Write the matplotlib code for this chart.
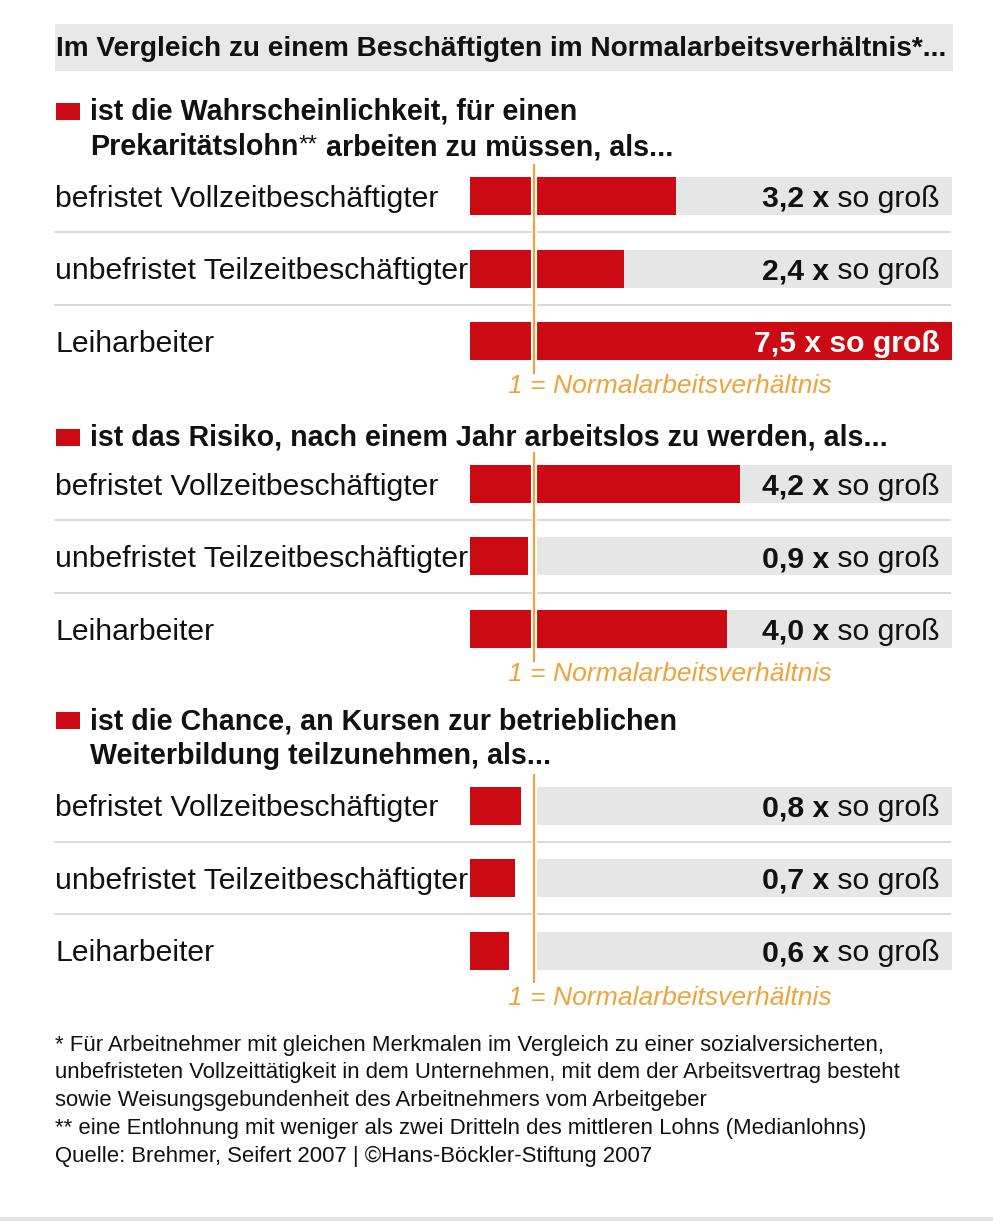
import matplotlib
matplotlib.use("Agg")
import matplotlib.pyplot as plt

# ---------------- data ----------------
title = "Im Vergleich zu einem Beschäftigten im Normalarbeitsverhältnis*..."
categories = ["befristet Vollzeitbeschäftigter",
              "unbefristet Teilzeitbeschäftigter",
              "Leiharbeiter"]
header_lohn = ["ist die Wahrscheinlichkeit, für einen",
               "Prekaritätslohn** arbeiten zu müssen, als..."]
header_arbeitslos = ["ist das Risiko, nach einem Jahr arbeitslos zu werden, als..."]
header_weiterbildung = ["ist die Chance, an Kursen zur betrieblichen",
                        "Weiterbildung teilzunehmen, als..."]
values_lohn = [3.2, 2.4, 7.5]
values_arbeitslos = [4.2, 0.9, 4.0]
values_weiterbildung = [0.8, 0.7, 0.6]
reference_value = 1.0
reference_label = "1 = Normalarbeitsverhältnis"
value_suffix = " so groß"
footnotes = ["* Für Arbeitnehmer mit gleichen Merkmalen im Vergleich zu einer sozialversicherten,",
             "unbefristeten Vollzeittätigkeit in dem Unternehmen, mit dem der Arbeitsvertrag besteht",
             "sowie Weisungsgebundenheit des Arbeitnehmers vom Arbeitgeber",
             "** eine Entlohnung mit weniger als zwei Dritteln des mittleren Lohns (Medianlohns)",
             "Quelle: Brehmer, Seifert 2007 | ©Hans-Böckler-Stiftung 2007"]

# ---------------- style / layout ----------------
RED = "#cc0a14"
GRAY = "#e6e6e6"
SEP = "#d9d9d9"
ORANGE = "#eda43a"
TXT = "#111111"
FONT = ["Liberation Sans", "DejaVu Sans"]
plt.rcParams["font.family"] = FONT

W, H = 993, 1221
fig = plt.figure(figsize=(W / 100, H / 100), dpi=100)
ov = fig.add_axes([0, 0, 1, 1])
ov.set_xlim(0, W)
ov.set_ylim(H, 0)
ov.axis("off")
ov.set_zorder(5)
renderer = fig.canvas.get_renderer()


def width_px(s, size, **kw):
    t = ov.text(0, 0, s, fontsize=size, **kw)
    w = t.get_window_extent(renderer).width
    t.remove()
    return w


def fit(s, target, **kw):
    return 10 * target / width_px(s, 10, **kw)


LEFT, BAR_L, BAR_R = 55, 470, 952
ROW = 72.5
BAR_H = 38 / ROW
XMAX = max(values_lohn + values_arbeitslos + values_weiterbildung)

fs_title = fit(title, 893, fontweight="bold")
fs_head = fit(header_lohn[0], 488, fontweight="bold")
fs_cat = fit(categories[0], 385)
fs_ref = fit(reference_label, 324, fontstyle="italic")
fs_foot = fit(footnotes[0], 829)

# title bar
ov.add_patch(plt.Rectangle((LEFT, 24), BAR_R + 1 - LEFT, 46.5, color="#e8e8e8", lw=0))
ov.text(LEFT + 1, 55.5, title, fontsize=fs_title, fontweight="bold", color=TXT, va="baseline")

# bottom band
ov.add_patch(plt.Rectangle((0, 1217), W, 4, color="#e2e2e2", lw=0))

sections = [
    (header_lohn, [120, 155], values_lohn, 196, 393),
    (header_arbeitslos, [446], values_arbeitslos, 484, 681),
    (header_weiterbildung, [729, 764], values_weiterbildung, 805.5, 1005),
]


def draw_header(lines, baselines):
    ov.add_patch(plt.Rectangle((56, baselines[0] - 17), 24, 17, color=RED, lw=0))
    for line, yb in zip(lines, baselines):
        x = 90.5
        parts = line.split("**")
        for i, p in enumerate(parts):
            if i > 0:
                ov.text(x, yb - 3, "**", fontsize=fs_head * 0.85, color=TXT, va="baseline")
                x += width_px("**", fs_head * 0.85)
            ov.text(x, yb, p, fontsize=fs_head, fontweight="bold", color=TXT, va="baseline")
            x += width_px(p, fs_head, fontweight="bold")


for lines, hb, vals, row0, ref_base in sections:
    draw_header(lines, hb)
    rows = [row0 + i * ROW for i in range(len(vals))]
    top = rows[0] - ROW / 2
    bot = rows[-1] + ROW / 2
    ax = fig.add_axes([BAR_L / W, 1 - bot / H, (BAR_R - BAR_L) / W, (bot - top) / H])
    ax.set_xlim(0, XMAX)
    ax.set_ylim(len(vals) - 0.5, -0.5)
    ax.axis("off")
    ax.patch.set_alpha(0)
    ys = list(range(len(vals)))
    ax.barh(ys, [XMAX - reference_value] * len(vals), left=reference_value,
            height=BAR_H, color=GRAY, lw=0)
    ax.barh(ys, vals, height=BAR_H, color=RED, lw=0)
    ax.vlines([reference_value] * len(vals), [y - BAR_H / 2 for y in ys],
              [y + BAR_H / 2 for y in ys], color="white", lw=4.4)
    ax.vlines(reference_value, -0.44, len(vals) - 0.55, color=ORANGE, lw=1.6, zorder=5)

    # separators
    for i in range(len(vals) - 1):
        ysep = rows[i] + ROW / 2
        ov.plot([LEFT, 531], [ysep, ysep], color=SEP, lw=1.4, zorder=0)
        ov.plot([538, BAR_R - 2], [ysep, ysep], color=SEP, lw=1.4, zorder=0)

    for i, (cat, v) in enumerate(zip(categories, vals)):
        yb = rows[i] + 0.36 * fs_cat * 100 / 72
        ov.text(LEFT, yb, cat, fontsize=fs_cat, color=TXT, va="baseline")
        num = f"{v:.1f}".replace(".", ",") + " x"
        wsuf = width_px(value_suffix, fs_cat)
        wnum = width_px(num, fs_cat, fontweight="bold")
        xr = 940
        bar_end = BAR_L + v / XMAX * (BAR_R - BAR_L)
        inside = bar_end > xr - wsuf - wnum
        col = "white" if inside else TXT
        ov.text(xr, yb, value_suffix, fontsize=fs_cat, color=col, va="baseline", ha="right",
                fontweight="bold" if inside else "normal", zorder=10)
        if inside:
            wsuf = width_px(value_suffix, fs_cat, fontweight="bold")
        ov.text(xr - wsuf, yb, num, fontsize=fs_cat, color=col, va="baseline", ha="right",
                fontweight="bold", zorder=10)

    ov.text(508, ref_base, reference_label, fontsize=fs_ref, fontstyle="italic",
            color=ORANGE, va="baseline")

for i, line in enumerate(footnotes):
    ov.text(LEFT, 1050.5 + i * 27.8, line, fontsize=fs_foot, color=TXT, va="baseline")

fig.savefig("out.png", dpi=100)
